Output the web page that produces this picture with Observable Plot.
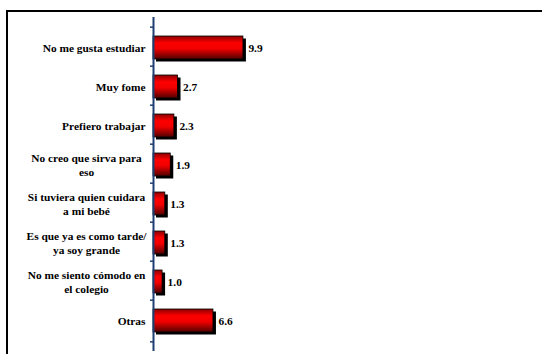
<!DOCTYPE html>
<html>
<head>
<meta charset="utf-8">
<script src="https://cdn.jsdelivr.net/npm/d3@7"></script>
<script src="https://cdn.jsdelivr.net/npm/@observablehq/plot@0.6"></script>
<style>
  html, body { margin: 0; padding: 0; background: #fff; }
  #wrap { position: relative; width: 542px; height: 354px; overflow: hidden; }
  #frame { position: absolute; left: 6px; top: 10px; right: 0; bottom: -4px; border-top: 2px solid #000; border-left: 2px solid #000; }
  #chart { position: absolute; left: 0; top: 0; }
  #chart svg, #chart svg text { font-family: "Liberation Serif", "Times New Roman", "DejaVu Serif", serif !important; font-weight: bold !important; font-size: 11.4px !important; }
</style>
</head>
<body>
<div id="wrap"><div id="frame"></div><div id="chart"></div></div>
<script>
const categories = [
  "No me gusta estudiar",
  "Muy fome",
  "Prefiero trabajar",
  "No creo que sirva para\neso",
  "Si tuviera quien cuidara\na mi bebé",
  "Es que ya es como tarde/\nya soy grande",
  "No me siento cómodo en\nel colegio",
  "Otras"
];
const values = [9.9, 2.7, 2.3, 1.9, 1.3, 1.3, 1.0, 6.6];
const valueLabels = ["9.9", "2.7", "2.3", "1.9", "1.3", "1.3", "1.0", "6.6"];

const data = categories.map((c, i) => ({cat: c, value: values[i], label: valueLabels[i]}));
const singleLine = data.filter(d => !d.cat.includes("\n"));
const multiLine = data.filter(d => d.cat.includes("\n"));

const W = 542, H = 354;
const mTop = 18, mBottom = 3, mLeft = 153;
const step = (H - mTop - mBottom) / categories.length;

const chart = Plot.plot({
  width: W,
  height: H,
  marginTop: mTop,
  marginBottom: mBottom,
  marginLeft: mLeft,
  marginRight: 280,
  style: {background: "transparent", overflow: "visible"},
  x: {domain: [0, 12], axis: null},
  y: {domain: categories, axis: null, padding: 0.4},
  marks: [
    Plot.barX(data, {x: "value", y: "cat", fill: "#000", dx: 3, dy: 2.5}),
    Plot.barX(data, {x: "value", y: "cat", fill: "url(#redgrad)", stroke: "#000", strokeWidth: 0.8}),
    Plot.ruleX([0], {stroke: "#1f3f73", strokeWidth: 2, insetTop: -1, insetBottom: 0}),
    Plot.ruleY(categories, {y: d => d, x1: -0.33, x2: 0, dy: -step / 2, stroke: "#1f3f73", strokeWidth: 1.5}),
    Plot.ruleY([categories[categories.length - 1]], {y: d => d, x1: -0.33, x2: 0, dy: step / 2, stroke: "#1f3f73", strokeWidth: 1.5}),
    Plot.text(singleLine, {x: 0, y: "cat", text: "cat", textAnchor: "end", dx: -8, fill: "#000"}),
    Plot.text(multiLine, {x: 0, y: "cat", text: "cat", textAnchor: "middle", dx: -67, lineHeight: 1.23, fill: "#000"}),
    Plot.text(data, {x: "value", y: "cat", text: "label", textAnchor: "start", dx: 5, fill: "#000"})
  ]
});

const svg = d3.select(chart);
const defs = svg.insert("defs", ":first-child");
const g = defs.append("linearGradient").attr("id", "redgrad").attr("x1", 0).attr("y1", 0).attr("x2", 0).attr("y2", 1);
g.append("stop").attr("offset", "0%").attr("stop-color", "#8a0000");
g.append("stop").attr("offset", "30%").attr("stop-color", "#ff0000");
g.append("stop").attr("offset", "55%").attr("stop-color", "#f20000");
g.append("stop").attr("offset", "100%").attr("stop-color", "#500000");

document.getElementById("chart").appendChild(chart);
</script>
</body>
</html>
